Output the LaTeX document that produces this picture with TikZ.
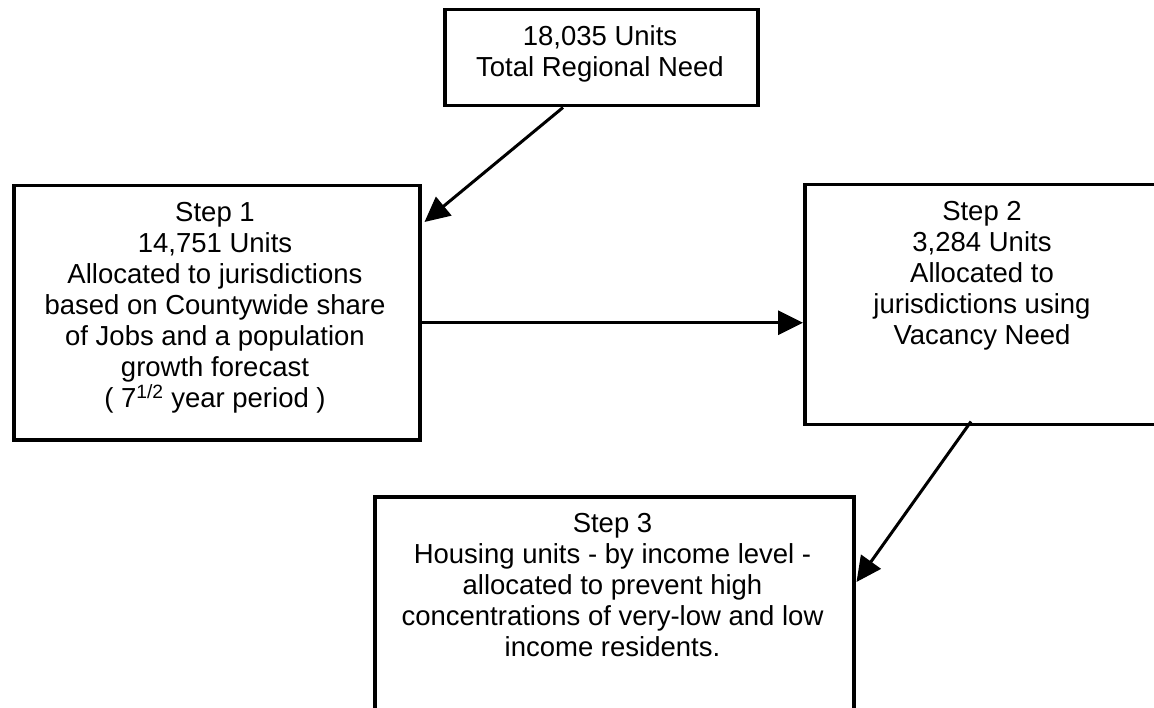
\documentclass[tikz,border=0pt]{standalone}
\usepackage{fontspec}
\setmainfont{Liberation Sans}
\usetikzlibrary{arrows.meta}
\tikzset{
  box/.style={draw, line width=3.5pt, inner sep=0pt, anchor=north west},
  txt/.style={align=center, inner sep=0pt, anchor=north, font=\fontsize{27.5pt}{31pt}\selectfont},
  arr/.style={line width=3pt, -{Triangle[length=25pt,width=24pt]}},
}
\begin{document}
\begin{tikzpicture}[x=1pt,y=-1pt]
\useasboundingbox (0,0) rectangle (1154,708);
\fill[white] (0,0) rectangle (1154,708);
\clip (0,0) rectangle (1154,708);
% boxes
\node[box, minimum width=313pt, minimum height=96pt] (s0) at (443,8) {};
\node[box, minimum width=406pt, minimum height=254pt] (s1) at (12,184) {};
\node[box, minimum width=358pt, minimum height=240pt] (s2) at (803,183) {};
\node[box, minimum width=479pt, minimum height=265pt] (s3) at (373,495) {};
% texts
\node[txt] (t0) at (600,23.8) {\strut 18,035 Units\\Total Regional Need};
\node[txt] (t1) at (215,199.8) {\strut Step 1\\14,751 Units\\Allocated to jurisdictions\\based on Countywide share\\of Jobs and a population\\growth forecast\\( 7\textsuperscript{1/2} year period )};
\node[txt] (t2) at (982,198.8) {\strut Step 2\\3,284 Units\\Allocated to\\jurisdictions using\\Vacancy Need};
\node[txt] (t3) at (612.5,510.8) {\strut Step 3\\Housing units - by income level -\\allocated to prevent high\\concentrations of very-low and low\\income residents.};
% connectors
\draw[arr] ([shift={(120,0)}]s0.south west) -- ([shift={(3,38)}]s1.north east);
\draw[arr] ([shift={(0,10)}]s1.east) -- ([shift={(0,18)}]s2.west);
\draw[arr] ([shift={(168,-5)}]s2.south west) -- ([shift={(1,87)}]s3.north east);
\end{tikzpicture}
\end{document}
